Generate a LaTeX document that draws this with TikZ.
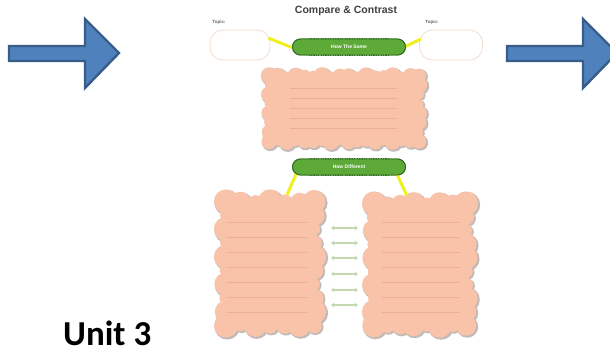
\documentclass[tikz,border=0pt]{standalone}
\usepackage{fontspec}
\setmainfont{Liberation Sans}
\newfontfamily\unitfont{Carlito}
\usetikzlibrary{shapes.misc,arrows.meta,calc}
\definecolor{arrowblue}{HTML}{4F81BD}
\definecolor{arrowedge}{HTML}{385D8A}
\definecolor{peach}{HTML}{F8C3A8}
\definecolor{peachline}{HTML}{EBB092}
\definecolor{cloudshade}{HTML}{C4BAB8}
\definecolor{ovalgreen}{HTML}{5DAA38}
\definecolor{ovaledge}{HTML}{2E6B1E}
\definecolor{connyellow}{HTML}{F0F020}
\definecolor{lightgreen}{HTML}{C5D9B0}
\definecolor{topicedge}{HTML}{F6DCCD}
% cloud made of a rectangle with bumps round its border
% #1 cx, #2 cy, #3 half width, #4 half height, #5 colour, #6 bump radius, #7 bump step, #8 seed angle
\newcommand\wsblob[8]{%
  \pgfmathtruncatemacro\wsnx{round(2*#3/#7)}%
  \pgfmathtruncatemacro\wsny{round(2*#4/#7)}%
  \fill[#5] (#1-#3,#2-#4) rectangle (#1+#3,#2+#4);
  \foreach \k in {0,...,\wsnx}{
    \fill[#5] ({#1-#3+\k*2*#3/\wsnx},#2-#4) circle[radius={#6*(1+0.35*sin(\k*137+#8))}];
    \fill[#5] ({#1-#3+\k*2*#3/\wsnx},#2+#4) circle[radius={#6*(1+0.35*sin(\k*211+40+#8))}];
  }
  \foreach \k in {0,...,\wsny}{
    \fill[#5] (#1-#3,{#2-#4+\k*2*#4/\wsny}) circle[radius={#6*(1+0.35*sin(\k*173+70+#8))}];
    \fill[#5] (#1+#3,{#2-#4+\k*2*#4/\wsny}) circle[radius={#6*(1+0.35*sin(\k*97+20+#8))}];
  }}
\begin{document}
\begin{tikzpicture}[x=1pt,y=-1pt,
  bluearrow/.style={fill=arrowblue,draw=arrowedge,line width=2.4pt,line join=miter},
  topicbox/.style={draw=topicedge,fill=white,line width=0.8pt,rounded corners=13pt},
  topiclabel/.style={font=\bfseries\fontsize{4.5}{5}\selectfont,text=black!60},
  oval/.style={rounded rectangle,fill=ovalgreen,draw=ovaledge,line width=0.9pt,
    minimum width=113pt,minimum height=16pt,inner sep=0pt,text=white,
    font=\bfseries\fontsize{5}{6}\selectfont},
  cloudanchor/.style={draw=none,inner sep=0pt},
  cloudline/.style={draw=peachline,line width=0.5pt},
  yellowline/.style={draw=connyellow,line width=3pt},
  greenarrow/.style={draw=lightgreen,line width=1.8pt,{Stealth[length=3.5pt,width=5pt]}-{Stealth[length=3.5pt,width=5pt]}}
]
\clip (0,0) rectangle (610,353);
\fill[white] (0,0) rectangle (610,353);

% big blue arrows
\path[bluearrow] (9,46) -- (85,46) -- (85,19) -- (119,53) -- (85,88) -- (85,61) -- (9,61) -- cycle;
\path[bluearrow] (507,46) -- (583,46) -- (583,19) -- (617,53) -- (583,88) -- (583,61) -- (507,61) -- cycle;

% worksheet title and topics
\node[font=\bfseries\fontsize{10.5}{12}\selectfont,text=black!75] (title) at (346,11) {Compare \& Contrast};
\node[topiclabel] (ltlabel) at (219,22) {Topic:};
\node[topiclabel] (rtlabel) at (432,22) {Topic:};
\node[topicbox,minimum width=60pt,minimum height=30pt] (ltopic) at (240,45) {};
\node[topicbox,minimum width=63pt,minimum height=30pt] (rtopic) at (451,45) {};

% clouds
\node[cloudanchor,minimum width=162pt,minimum height=76pt] (simcloud) at (344,108) {};
\node[cloudanchor,minimum width=104pt,minimum height=140pt] (lcloud) at (270,263) {};
\node[cloudanchor,minimum width=108pt,minimum height=138pt] (rcloud) at (420,264) {};
\wsblob{345.3}{109.8}{75}{33}{cloudshade}{6.8}{9}{0}
\wsblob{344}{108.5}{75}{33}{peach}{6.2}{9}{0}
\wsblob{271.3}{264.8}{44}{62}{cloudshade}{9.6}{14}{30}
\wsblob{270}{263.5}{44}{62}{peach}{9}{14}{30}
\wsblob{421.3}{265.8}{46}{61}{cloudshade}{9.6}{14}{80}
\wsblob{420}{264.5}{46}{61}{peach}{9}{14}{80}

\foreach \y in {88,98,108,118,128} \draw[cloudline] (290,\y) -- (397,\y);
\foreach \y in {222,237,252,267,282,297,312} {
  \draw[cloudline] (227,\y) -- (307,\y);
  \draw[cloudline] (382,\y) -- (460,\y);
}

% double arrows between clouds
\foreach \i/\y in {1/228,2/243,3/258,4/274,5/290,6/305} {
  \coordinate (ga\i) at (331,\y);
  \coordinate (gb\i) at (358,\y);
  \draw[greenarrow] (ga\i) -- (gb\i);
}

% green ovals
\node[oval] (same) at (349,47) {How The Same};
\node[oval] (diff) at (349,167) {How Different};

% yellow connectors
\draw[yellowline] ($(ltopic.east)+(-2,-7)$) -- ($(same.west)+(6,3)$);
\draw[yellowline] ($(rtopic.west)+(2,-6)$) -- ($(same.east)+(-8,3)$);
\draw[yellowline] ($(diff.west)+(5,5)$) -- ($(lcloud.north)+(17,2)$);
\draw[yellowline] ($(diff.east)+(-10,5)$) -- ($(rcloud.north)+(-13,1)$);

% ovals redrawn above connectors, with scalloped edge
\foreach \o in {same,diff} {
  \draw[ovaledge,line width=1.6pt,dash pattern=on 1.2pt off 1.2pt]
    ([xshift=8pt]\o.north west) -- ([xshift=-8pt]\o.north east)
    ([xshift=8pt]\o.south west) -- ([xshift=-8pt]\o.south east);
}
\node[oval] at (same) {How The Same};
\node[oval] at (diff) {How Different};

% label
\node[font=\unitfont\bfseries\fontsize{35}{40}\selectfont,anchor=base west,inner sep=0pt] (unit) at (63,345) {Unit 3};
\end{tikzpicture}
\end{document}
